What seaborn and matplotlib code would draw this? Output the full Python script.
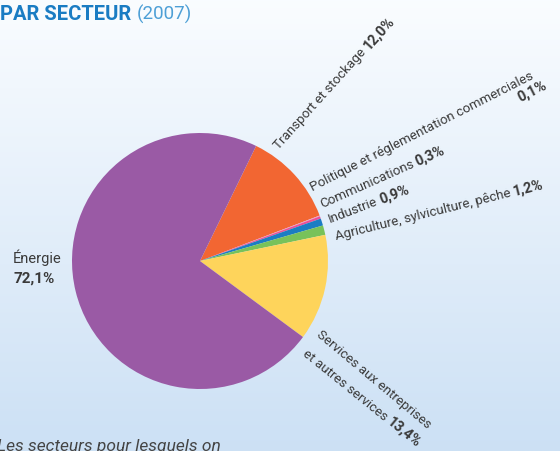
import numpy as np
import matplotlib
matplotlib.use("Agg")
import matplotlib.pyplot as plt
import seaborn as sns
from matplotlib import font_manager

# data
sectors = ["Transport et stockage", "Politique et réglementation commerciales",
           "Communications", "Industrie", "Agriculture, sylviculture, pêche",
           "Services aux entreprises et autres services", "Énergie"]
shares = [12.0, 0.1, 0.3, 0.9, 1.2, 13.4, 72.1]
share_labels = ["12,0%", "0,1%", "0,3%", "0,9%", "1,2%", "13,4%", "72,1%"]
colors = ["#f26632", "#f59bc2", "#ec4f97", "#1b7dc3", "#78c25a", "#fed45b", "#9a5aa5"]

sns.set_theme(style="white")
names = {f.name for f in font_manager.fontManager.ttflist}
narrow = "Liberation Sans Narrow" if "Liberation Sans Narrow" in names else "Roboto"
plt.rcParams["font.family"] = [narrow, "DejaVu Sans"]

W, H = 560, 451
fig = plt.figure(figsize=(W / 100, H / 100), dpi=100)
ax = fig.add_axes([0, 0, 1, 1])
ax.set_xlim(0, W)
ax.set_ylim(0, H)
ax.axis("off")

# background gradient, light at top, pale blue at bottom
grad = np.linspace(0, 1, 256)[:, None]
top = np.array([0.98, 0.99, 1.0])
bot = np.array([0.80, 0.88, 0.96])
img = top + (bot - top) * grad[..., None]
ax.imshow(img, extent=[0, W, 0, H], aspect="auto", origin="upper", zorder=0)

cx, cy, r = 200, H - 261, 128
ax.pie(shares, colors=colors, startangle=64, counterclock=False,
       center=(cx, cy), radius=r, wedgeprops=dict(linewidth=0),
       frame=False)
ax.set_xlim(0, W)
ax.set_ylim(0, H)
ax.set_aspect("equal")

txt = "#3a3a3a"
fs = 9.6
fb = 10.4
fig.canvas.draw()
renderer = fig.canvas.get_renderer()


def label(x, y, parts, angle):
    # parts: list of (text, weight), laid out along the rotated baseline
    px, py = x, H - y
    th = np.deg2rad(angle)
    for s, w in parts:
        size = fb if w == "bold" else fs
        t = ax.text(px, py, s, fontsize=size, fontweight=w, color=txt,
                    ha="left", va="baseline", rotation=0, zorder=5)
        wd = t.get_window_extent(renderer).width + size * 0.3
        t.set_rotation(angle)
        t.set_rotation_mode("anchor")
        px += wd * np.cos(th)
        py += wd * np.sin(th)


label(279, 150, [("Transport et stockage", "normal"), (share_labels[0], "bold")], 48)
label(313, 191, [("Politique et réglementation commerciales", "normal")], 27)
ax.text(548, H - 88, share_labels[1], fontsize=fb, fontweight="bold", color=txt,
        ha="right", va="baseline", rotation=27, rotation_mode="anchor", zorder=5)
label(322, 208, [("Communications", "normal"), (share_labels[2], "bold")], 24)
label(330, 223, [("Industrie", "normal"), (share_labels[3], "bold")], 21)
label(336, 240, [("Agriculture, sylviculture, pêche", "normal"), (share_labels[4], "bold")], 14)
label(316, 336, [("Services aux entreprises", "normal")], -40)
label(302, 355, [("et autres services", "normal"), (share_labels[5], "bold")], -39)

ax.text(13, H - 263, "Énergie", fontsize=10.5, color=txt, ha="left", va="baseline")
ax.text(13, H - 283, share_labels[6], fontsize=11, fontweight="bold", color=txt,
        ha="left", va="baseline")

# title
t1 = ax.text(0, H - 20, "PAR SECTEUR", fontsize=14.5, fontweight="bold",
             color="#1a7cc3", ha="left", va="baseline")
w1 = t1.get_window_extent(renderer).width
ax.text(w1 + 5, H - 20, "(2007)", fontsize=13.5, color="#4d9fd6",
        ha="left", va="baseline")

ax.text(-3, H - 451, "Les secteurs pour lesquels on", fontsize=12.5,
        style="italic", color="#444444", ha="left", va="baseline")

fig.savefig("out.png", dpi=100)
